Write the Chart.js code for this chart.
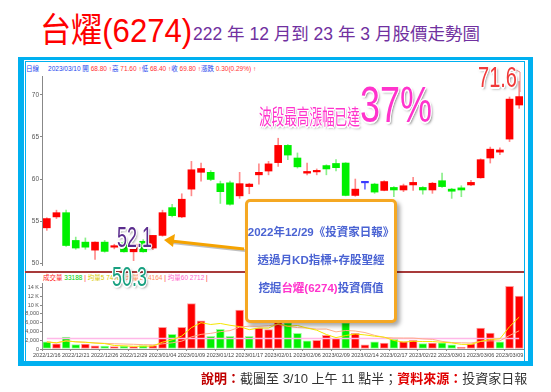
<!DOCTYPE html>
<html>
<head>
<meta charset="utf-8">
<script src="https://cdn.jsdelivr.net/npm/chart.js@4.4.0/dist/chart.umd.min.js"></script>
<style>
body{margin:0;width:551px;height:392px;background:#fff;position:relative;overflow:hidden;font-family:'Liberation Sans','Noto Sans CJK TC',sans-serif}
.abs{position:absolute;white-space:nowrap;line-height:1}
.outl{text-shadow:-1px -1px 0 #fff,1px -1px 0 #fff,-1px 1px 0 #fff,1px 1px 0 #fff,0 -1.5px 0 #fff,0 1.5px 0 #fff,-1.5px 0 0 #fff,1.5px 0 0 #fff,2px 2px 3px rgba(0,0,0,.5)}
.b{color:#2244ee}.r{color:#ff3333}
</style>
</head>
<body>
<!-- 標題 -->
<div class="abs" style="left:40px;top:13px;font-size:34px;color:#ff0000;transform:scaleX(0.915);transform-origin:left">台燿(6274)</div>
<div class="abs" style="left:193px;top:26px;font-size:17.5px;color:#7030a0">222 年 12 月到 23 年 3 月股價走勢圖</div>

<!-- 外框 -->
<div class="abs" style="left:18px;top:57px;width:515px;height:309px;box-sizing:border-box;border-style:solid;border-color:#00b0f0;border-width:3px 5px 5px 6px"></div>
<div class="abs" style="left:25px;top:61px;width:500px;height:301px;box-sizing:border-box;border:1px solid #00b0f0"></div>

<div class="abs" style="left:26px;top:66px;font-size:6.5px">
<span class="b">日線</span>&nbsp;&nbsp;&nbsp;&nbsp;&nbsp;<span class="b">2023/03/10 開</span> <span class="r">68.80 ↑</span><span class="b">高</span> <span class="r">71.60 ↑</span><span class="b">低</span> <span class="r">68.40 ↑</span><span class="b">收</span> <span class="r">69.80 ↑</span><span class="b">漲跌</span> <span class="r">0.30(0.29%) ↑</span>
</div>

<canvas id="priceChart" class="abs" style="left:25px;top:72px;width:499px;height:198px"></canvas>
<div class="abs" style="left:25px;top:271px;width:499px;height:2px;background:#a83a3a"></div>
<div class="abs" style="left:43px;top:275px;font-size:6.5px">
<span style="color:#ff2020">成交量</span> <span style="color:#00cc00">33188</span> <span style="color:#ff2020">|</span> <span style="color:#d8c800">均量5</span> <span style="color:#d8c800">7478</span> <span style="color:#ff2020">|</span> <span style="color:#ff9060">均量10 4164</span> <span style="color:#ff2020">|</span> <span style="color:#ff66cc">均量60 2712</span> <span style="color:#ff2020">|</span>
</div>
<canvas id="volChart" class="abs" style="left:25px;top:279px;width:499px;height:82px"></canvas>

<!-- 箭頭 -->
<svg class="abs" style="left:0;top:0" width="551" height="392">
  <line x1="245" y1="250.5" x2="172" y2="242.5" stroke="rgba(0,0,0,0.25)" stroke-width="3"/>
  <line x1="244" y1="249" x2="171" y2="241" stroke="#f5a300" stroke-width="3"/>
  <polygon points="164,240 175,234 173,247" fill="#f5a300"/>
  <polyline points="516,70 520,72 520,92" fill="none" stroke="#e88" stroke-width="1"/>
</svg>

<div class="abs outl" style="left:117px;top:223px;font-size:29px;color:#5b2d8e;transform:scaleX(0.62);transform-origin:left">52.1</div>
<div class="abs outl" style="left:112px;top:263px;font-size:28px;color:#18a080;transform:scaleX(0.64);transform-origin:left">50.3</div>
<div class="abs outl" style="left:478px;top:63px;font-size:29px;color:#f03a3a;transform:scaleX(0.69);transform-origin:left">71.6</div>
<div class="abs outl" style="left:259px;top:106px;font-size:21px;color:#ff33cc;transform:scaleX(0.6);transform-origin:left">波段最高漲幅已達</div>
<div class="abs outl" style="left:360px;top:80px;font-size:50px;color:#ff33cc;transform:scaleX(0.72);transform-origin:left">37%</div>

<!-- 說明框 -->
<div class="abs" style="left:245px;top:199px;width:152px;height:124px;box-sizing:border-box;border:3px solid #f5a823;border-radius:5px;background:#fff;box-shadow:3px 3px 4px rgba(0,0,0,.35)"></div>
<div class="abs" style="left:245px;top:227px;width:152px;text-align:center;font-size:11.5px;font-weight:bold;color:#4a63d3">2022年12/29《投資家日報》</div>
<div class="abs" style="left:245px;top:255px;width:152px;text-align:center;font-size:11.5px;font-weight:bold;color:#4a63d3">透過月KD指標+存股聖經</div>
<div class="abs" style="left:245px;top:283px;width:152px;text-align:center;font-size:11.5px;font-weight:bold;color:#4a63d3">挖掘<span style="color:#ff33cc">台燿(6274)</span>投資價值</div>

<div class="abs" style="left:201px;top:372px;font-size:13px;color:#333"><span style="color:#c00000;font-weight:bold">說明：</span>截圖至 3/10 上午 11 點半；<span style="color:#e00000;font-weight:bold">資料來源：</span>投資家日報</div>

<script>
// 台燿 6274 日線 2022/12/16 ~ 2023/03/10
const dates = [
  '2022/12/16','2022/12/19','2022/12/20','2022/12/21','2022/12/22','2022/12/23','2022/12/26','2022/12/27','2022/12/28','2022/12/29','2022/12/30',
  '2023/01/03','2023/01/04','2023/01/05','2023/01/06','2023/01/09','2023/01/10','2023/01/11','2023/01/12','2023/01/13','2023/01/16','2023/01/17','2023/01/30','2023/01/31',
  '2023/02/01','2023/02/02','2023/02/03','2023/02/06','2023/02/07','2023/02/08','2023/02/09','2023/02/10','2023/02/13','2023/02/14','2023/02/15','2023/02/16','2023/02/17','2023/02/20','2023/02/21','2023/02/22','2023/02/23','2023/02/24',
  '2023/03/01','2023/03/02','2023/03/03','2023/03/06','2023/03/07','2023/03/08','2023/03/09','2023/03/10'
];
const opens  = [54.2,55.5,56.0,52.7,52.5,51.55,52.5,51.9,52.4,51.35,52.6, 51.8,53.3,56.6,55.5,58.8,60.8,60.8,59.45,59.55,58.0,59.1,60.5,60.95, 61.95,64.0,62.5,60.7,60.85,61.6,61.85,61.9,58.05,59.55,59.4,58.65,59.0,58.7,59.3,59.0,58.7,59.8, 58.8,58.95,59.3,60.15,62.5,63.2,64.75,68.8];
const highs  = [55.4,56.3,56.3,53.1,53.0,52.55,52.7,52.25,52.6,52.3,52.8, 53.3,56.3,57.0,58.25,62.1,61.9,61.0,59.75,59.75,60.8,59.5,61.8,62.1, 64.85,64.1,63.1,61.9,61.2,61.7,62.3,61.95,60.0,59.6,59.5,59.8,59.1,59.4,60.2,59.1,59.6,60.7, 58.9,59.2,59.85,62.4,63.8,63.7,69.75,71.6];
const lows   = [53.9,55.3,52.0,51.65,51.65,50.45,51.3,51.7,51.3,50.3,51.3, 51.6,53.2,55.5,55.4,58.0,59.75,59.8,57.1,56.9,57.7,58.25,59.4,60.5, 61.5,62.3,61.3,60.5,60.5,60.5,60.95,58.0,57.95,58.8,58.3,58.6,57.9,58.5,58.65,58.2,58.3,59.0, 57.7,57.9,59.2,60.1,61.9,62.9,64.45,68.4];
const closes = [55.3,56.0,52.1,51.8,51.9,52.5,51.4,51.95,51.35,52.25,51.35, 53.3,56.0,55.65,57.6,61.1,61.25,59.95,58.5,57.0,59.45,59.4,60.8,61.8, 64.0,62.85,61.45,60.9,60.95,61.2,61.35,58.05,58.8,59.55,58.45,59.7,58.7,59.2,59.6,58.7,59.5,59.1, 58.55,58.7,59.6,62.3,63.55,63.45,69.5,69.8];
const volumes = [1620,1200,2750,1000,1100,700,650,550,650,550,800, 800,4950,3330,4950,10360,6440,2890,4510,2890,8880,2890,4800,4440, 8000,6000,3600,1850,2000,3100,2440,6000,3600,960,1620,1330,2220,1700,2000,1250,1330,1400, 960,360,1180,4800,3620,1620,14300,12070];
const prevClose = 55.6;
const volLongAvg = 2400;
const priceTicks = [50, 55, 60, 65, 70];
const volTicks = [0, 2000, 4000, 6000, 8000, 10000, 12000, 14000];

Chart.defaults.font.family = "'Liberation Sans', 'Noto Sans CJK TC', sans-serif";
Chart.defaults.animation = false;

const UP = '#ff0000', DOWN = '#00f000', FLAT = '#3a3aff';

function bodyColor(i) {
  if (closes[i] > opens[i]) return UP;
  if (closes[i] < opens[i]) return DOWN;
  return FLAT;
}
function wickColor(i) {
  if (closes[i] > opens[i]) return '#ff8a8a';
  if (closes[i] < opens[i]) return '#8aef8a';
  return '#6a6aff';
}
function volUp(i) {
  const pc = i === 0 ? prevClose : closes[i - 1];
  return closes[i] >= pc;
}
function movAvg(arr, n) {
  return arr.map((_, i) => {
    const s = arr.slice(Math.max(0, i - n + 1), i + 1);
    return s.reduce((a, b) => a + b, 0) / s.length;
  });
}

const yAxisW = 17;

new Chart(document.getElementById('priceChart'), {
  type: 'bar',
  data: {
    labels: dates,
    datasets: [
      {
        label: 'body',
        data: opens.map((o, i) => [o, closes[i]]),
        backgroundColor: dates.map((_, i) => bodyColor(i)),
        barThickness: 7,
        minBarLength: 1.5,
        grouped: false,
        order: 0
      },
      {
        label: 'wick',
        data: lows.map((l, i) => [l, highs[i]]),
        backgroundColor: dates.map((_, i) => wickColor(i)),
        barThickness: 1,
        grouped: false,
        order: 1
      }
    ]
  },
  options: {
    responsive: false,
    maintainAspectRatio: false,
    layout: { padding: 0 },
    plugins: { legend: { display: false }, tooltip: { enabled: false } },
    scales: {
      x: { display: false, offset: true },
      y: {
        min: 49.77,
        max: 72.14,
        afterBuildTicks: s => { s.ticks = priceTicks.map(v => ({ value: v })); },
        afterFit: s => { s.width = yAxisW; },
        grid: { drawOnChartArea: false, tickLength: 2, color: '#888' },
        border: { display: true, color: '#888' },
        ticks: { autoSkip: false, font: { size: 6.5 }, color: '#555', padding: 1 }
      }
    }
  }
});

new Chart(document.getElementById('volChart'), {
  type: 'bar',
  data: {
    labels: dates,
    datasets: [
      {
        type: 'line',
        label: 'MA5',
        data: movAvg(volumes, 5),
        borderColor: '#f5e600',
        borderWidth: 1,
        pointRadius: 0,
        tension: 0,
        order: 0
      },
      {
        type: 'line',
        label: 'MA10',
        data: movAvg(volumes, 10),
        borderColor: '#ffb08a',
        borderWidth: 1,
        pointRadius: 0,
        tension: 0,
        order: 0
      },
      {
        type: 'line',
        label: 'MA60',
        data: dates.map(() => volLongAvg),
        borderColor: '#ffb8e8',
        borderWidth: 1.5,
        pointRadius: 0,
        order: 0
      },
      {
        label: '成交量',
        data: volumes,
        backgroundColor: dates.map((_, i) => volUp(i) ? '#ff0000' : '#00f000'),
        borderColor: dates.map((_, i) => volUp(i) ? '#ff9a9a' : '#9aff9a'),
        borderWidth: 1,
        borderSkipped: false,
        barThickness: 8,
        order: 1
      }
    ]
  },
  options: {
    responsive: false,
    maintainAspectRatio: false,
    layout: { padding: { top: 2, left: 0, right: 0, bottom: 0 } },
    plugins: { legend: { display: false }, tooltip: { enabled: false } },
    scales: {
      x: {
        offset: true,
        afterFit: s => { s.height = 12; },
        grid: {
          drawOnChartArea: false,
          tickLength: 2,
          color: ctx => (ctx.index % 3 === 0 ? '#888' : 'rgba(0,0,0,0)')
        },
        border: { display: true, color: '#888' },
        ticks: {
          autoSkip: false,
          maxRotation: 0,
          padding: 1,
          font: { size: 5.5 },
          color: '#444',
          callback: (v, i) => (i % 3 === 0 ? dates[i] : '')
        }
      },
      y: {
        min: 0,
        max: 15000,
        afterBuildTicks: s => { s.ticks = volTicks.map(v => ({ value: v })); },
        afterFit: s => { s.width = yAxisW; },
        grid: { drawOnChartArea: false, tickLength: 2, color: '#888' },
        border: { display: true, color: '#888' },
        ticks: {
          autoSkip: false,
          font: { size: 5.5 },
          color: '#555',
          padding: 1,
          callback: v => (v >= 10000 ? (v / 1000) + ' K' : v.toLocaleString('en-US'))
        }
      }
    }
  }
});
</script>
</body>
</html>
